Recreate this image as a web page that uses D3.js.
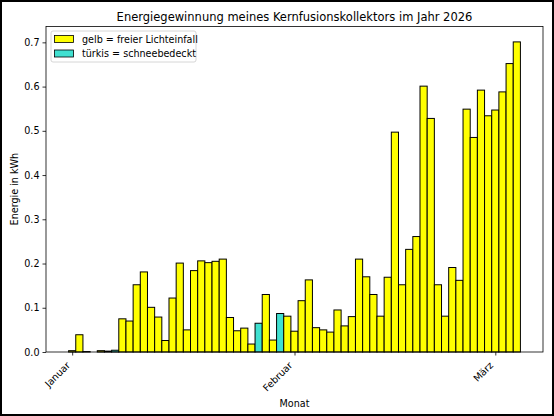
<!DOCTYPE html>
<html>
<head>
<meta charset="utf-8">
<script src="https://cdn.jsdelivr.net/npm/d3@7"></script>
<style>
	html, body { margin: 0; padding: 0; background: #fff; }
	svg { display: block; font-family: "DejaVu Sans", sans-serif; }
</style>
</head>
<body>
<svg id="chart" width="554" height="416"></svg>
<script>
const title = "Energiegewinnung meines Kernfusionskollektors im Jahr 2026";
const xLabel = "Monat";
const yLabel = "Energie in kWh";

const firstDay = "2026-01-01";
const lastDay = "2026-03-04";

// daily energy, one value per day from firstDay to lastDay
const janValues = [0.003, 0.039, 0.001, 0.000, 0.003, 0.002, 0.004, 0.075, 0.070, 0.152,
	0.181, 0.101, 0.079, 0.026, 0.122, 0.201, 0.050, 0.184, 0.206, 0.202,
	0.205, 0.210, 0.078, 0.048, 0.054, 0.018, 0.065, 0.130, 0.027, 0.087, 0.081];
const febValues = [0.047, 0.116, 0.163, 0.055, 0.050, 0.045, 0.095, 0.059, 0.080, 0.210,
	0.170, 0.130, 0.081, 0.169, 0.497, 0.152, 0.232, 0.261, 0.601, 0.528,
	0.152, 0.081, 0.191, 0.162, 0.549, 0.485, 0.592, 0.534];
const marValues = [0.547, 0.588, 0.652, 0.701];

const snowDays = ["2026-01-07", "2026-01-27", "2026-01-30"];

const monthTicks = ["2026-01-01", "2026-02-01", "2026-03-01"];
const monthLabels = ["Januar", "Februar", "März"];
const yTicks = [0, 0.1, 0.2, 0.3, 0.4, 0.5, 0.6, 0.7];

const legendLabels = ["gelb = freier Lichteinfall", "türkis = schneebedeckt"];
const legendColors = ["#ffff00", "#40e0d0"];

const parse = d3.utcParse("%Y-%m-%d");
const fmt = d3.utcFormat("%Y-%m-%d");
const days = d3.utcDay.range(parse(firstDay), d3.utcDay.offset(parse(lastDay), 1));
const values = [...janValues, ...febValues, ...marValues];
const data = days.map((d, i) => ({ date: d, value: values[i], snow: snowDays.includes(fmt(d)) }));

const W = 554, H = 416;
const plot = { left: 46, right: 543, top: 26.4, bottom: 352 };

const svg = d3.select("#chart");

// figure frame
svg.append("rect")
	.attr("x", 1).attr("y", 1)
	.attr("width", W - 2).attr("height", H - 2)
	.attr("fill", "#fff").attr("stroke", "#000").attr("stroke-width", 2);

// matplotlib-like 5% margins around the bar extent (half a day each side)
const dayMs = 864e5;
const x0 = +days[0] - dayMs / 2;
const x1 = +days[days.length - 1] + dayMs / 2;
const pad = (x1 - x0) * 0.05;
const x = d3.scaleUtc()
	.domain([new Date(x0 - pad), new Date(x1 + pad)])
	.range([plot.left, plot.right]);

const yMax = d3.max(values) * 1.05;
const y = d3.scaleLinear().domain([0, yMax]).range([plot.bottom, plot.top]);

// bars
svg.append("g")
	.selectAll("rect")
	.data(data)
	.join("rect")
	.attr("x", (d) => x(new Date(+d.date - dayMs / 2)))
	.attr("width", (d) => x(new Date(+d.date + dayMs / 2)) - x(new Date(+d.date - dayMs / 2)))
	.attr("y", (d) => y(d.value))
	.attr("height", (d) => y(0) - y(d.value))
	.attr("fill", (d) => (d.snow ? legendColors[1] : legendColors[0]))
	.attr("stroke", "#000")
	.attr("stroke-width", 1);

// y axis
const yAxis = svg.append("g")
	.attr("transform", `translate(${plot.left},0)`)
	.call(d3.axisLeft(y).tickValues(yTicks).tickFormat(d3.format(".1f")).tickSize(3.5).tickPadding(3));
yAxis.select(".domain").remove();
yAxis.selectAll("line").attr("stroke", "#000").attr("stroke-width", 0.8);
yAxis.selectAll("text").attr("font-size", 9.6).attr("fill", "#000").attr("font-family", "DejaVu Sans");

// x axis
const xAxis = svg.append("g")
	.attr("transform", `translate(0,${plot.bottom})`)
	.call(d3.axisBottom(x).tickValues(monthTicks.map(parse)).tickFormat((d, i) => monthLabels[i]).tickSize(3.5));
xAxis.select(".domain").remove();
xAxis.selectAll("line").attr("stroke", "#000").attr("stroke-width", 0.8);
xAxis.selectAll("text")
	.attr("font-size", 9.6)
	.attr("fill", "#000")
	.attr("font-family", "DejaVu Sans")
	.attr("text-anchor", "end")
	.attr("dy", null)
	.attr("y", null)
	.attr("transform", "translate(-2,14) rotate(-45)");

// spines
svg.append("rect")
	.attr("x", plot.left).attr("y", plot.top)
	.attr("width", plot.right - plot.left).attr("height", plot.bottom - plot.top)
	.attr("fill", "none").attr("stroke", "#000").attr("stroke-width", 0.8);

// titles
svg.append("text")
	.attr("x", (plot.left + plot.right) / 2).attr("y", 21)
	.attr("text-anchor", "middle").attr("font-size", 11.5)
	.text(title);

svg.append("text")
	.attr("x", (plot.left + plot.right) / 2).attr("y", 407)
	.attr("text-anchor", "middle").attr("font-size", 9.6)
	.text(xLabel);

svg.append("text")
	.attr("transform", `translate(18,${(plot.top + plot.bottom) / 2}) rotate(-90)`)
	.attr("text-anchor", "middle").attr("font-size", 9.6)
	.text(yLabel);

// legend
const legend = svg.append("g").attr("transform", "translate(51,31)");
legend.append("rect")
	.attr("width", 145).attr("height", 31).attr("rx", 2)
	.attr("fill", "#fff").attr("fill-opacity", 0.8)
	.attr("stroke", "#ccc").attr("stroke-width", 0.8);
const entries = legend.selectAll("g.entry")
	.data(legendLabels)
	.join("g")
	.attr("class", "entry")
	.attr("transform", (d, i) => `translate(0,${i * 14.5})`);
entries.append("rect")
	.attr("x", 3.5).attr("y", 4.5)
	.attr("width", 19).attr("height", 7)
	.attr("fill", (d, i) => legendColors[i])
	.attr("stroke", "#000").attr("stroke-width", 0.8);
entries.append("text")
	.attr("x", 31).attr("y", 11.8)
	.attr("font-size", 9.6)
	.text((d) => d);
</script>
</body>
</html>
